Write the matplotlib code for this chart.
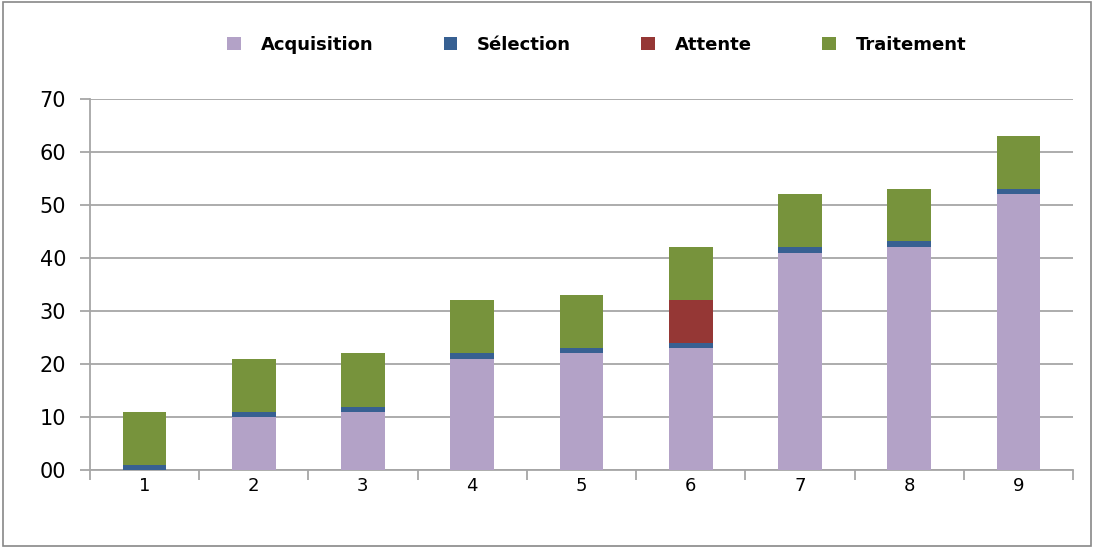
import numpy as np
import matplotlib
matplotlib.use("Agg")
import matplotlib.pyplot as plt
from matplotlib.patches import Rectangle

categories = ["1", "2", "3", "4", "5", "6", "7", "8", "9"]
acquisition = [0, 10, 11, 21, 22, 23, 41, 42, 52]
selection = [1, 1, 0.8, 1, 1, 1, 1, 1.2, 1]
attente = [0, 0, 0, 0, 0, 8, 0, 0, 0]
traitement = [10, 10, 10.2, 10, 10, 10, 10, 9.8, 10]

series = [
    ("Acquisition", acquisition, "#B3A2C7"),
    ("Sélection", selection, "#376092"),
    ("Attente", attente, "#953735"),
    ("Traitement", traitement, "#77933C"),
]

fig = plt.figure(figsize=(10.95, 5.49), dpi=100)
ax = fig.add_axes([0.082, 0.144, 0.898, 0.676])

x = np.arange(len(categories))
bottom = np.zeros(len(categories))
for name, vals, col in series:
    vals = np.array(vals, dtype=float)
    ax.bar(x, vals, width=0.4, bottom=bottom, color=col, label=name,
           linewidth=0, zorder=3)
    bottom += vals

ax.set_xlim(-0.5, len(categories) - 0.5)
ax.set_ylim(0, 70)
ax.set_yticks(range(0, 71, 10))
ax.set_yticklabels([f"{v:02d}" for v in range(0, 71, 10)], fontsize=15)
ax.yaxis.grid(True, color="#A6A6A6", linewidth=1.3, zorder=0)
ax.set_axisbelow(True)

ax.set_xticks(x)
ax.set_xticklabels(categories, fontsize=13)
ax.set_xticks(np.arange(-0.5, len(categories)), minor=True)
ax.tick_params(axis="x", which="major", length=0, pad=5)
ax.tick_params(axis="x", which="minor", length=7, color="#A6A6A6", width=1.3)
ax.tick_params(axis="y", length=7, color="#A6A6A6", width=1.3, pad=10)

for s in ["top", "right"]:
    ax.spines[s].set_visible(False)
for s in ["left", "bottom"]:
    ax.spines[s].set_color("#A6A6A6")
    ax.spines[s].set_linewidth(1.3)

fig.legend(loc="center", bbox_to_anchor=(0.545, 0.918), ncol=4, frameon=False,
           handlelength=0.75, handleheight=0.75, columnspacing=3.9, handletextpad=1.1,
           prop={"size": 13, "weight": "bold"})

fig.patches.append(Rectangle((0.003, 0.006), 0.993, 0.99, transform=fig.transFigure,
                             fill=False, edgecolor="#888888", linewidth=1.2))

fig.savefig("out.png", dpi=100)
